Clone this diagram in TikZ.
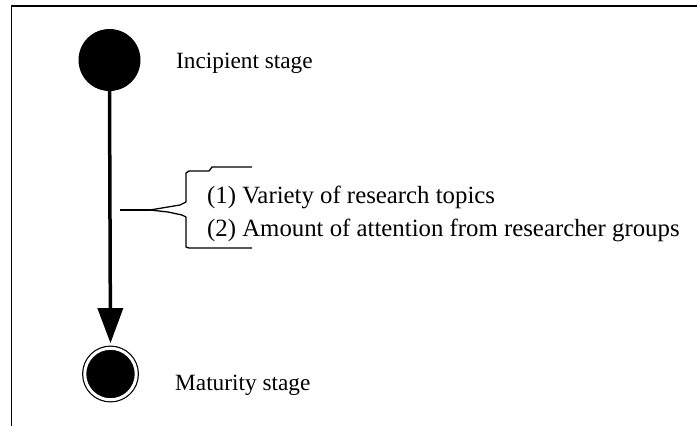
\documentclass[tikz,border=0pt]{standalone}
\usepackage{fontspec}
\setmainfont{Liberation Serif}
\usetikzlibrary{arrows.meta}
\begin{document}
\begin{tikzpicture}[x=1pt,y=-1pt,
  stage/.style={circle, fill=black, inner sep=0pt},
  stagetext/.style={anchor=base west, inner sep=0pt, font=\fontsize{23.3}{28}\selectfont},
  itemtext/.style={anchor=base west, inner sep=0pt, font=\fontsize{24.8}{30}\selectfont},
  frameline/.style={line width=1.3pt},
  braceline/.style={line width=1.3pt, line join=round}]
\useasboundingbox (0,0) rectangle (697,426);

% open frame: top and left edges
\draw[frameline] (11.5,426) |- (697,6);

% the two stages
\node[stage, minimum size=62pt] (inc) at (109.5,60) {};
\node[stage, draw=black, double=white, double distance=3pt, line width=1.2pt,
      minimum size=51.5pt] (mat) at (110.5,374) {};
\node[stagetext] (inctext) at (176,68.3) {Incipient stage};
\node[stagetext] (mattext) at (175,390) {Maturity stage};

% development arrow
\draw[line width=3.5pt, -{Triangle[width=25pt,length=35pt]}, shorten >=4.5pt]
  (inc.south) -- (mat.north);

% factors and their brace
\coordinate (hs) at (120,210);
\coordinate (bt) at (150,210);
\draw[line width=1.5pt] (hs) -- (bt);
\draw[braceline] (bt) -- ++(18,-3) -- ++(12,-2) -- ++(6,-3) -- ++(0,-29)
  -- ++(3,-2) -- ++(20,0) -- ++(3,-4) -- ++(40,0);
\draw[braceline] (bt) -- ++(18,2) -- ++(14,3) -- ++(4,2) -- ++(0,30)
  -- ++(3,1) -- ++(63,0);

\node[itemtext] (f1) at (207,203) {(1) Variety of research topics};
\node[itemtext] (f2) at (207,236) {(2) Amount of attention from researcher groups};
\end{tikzpicture}
\end{document}
